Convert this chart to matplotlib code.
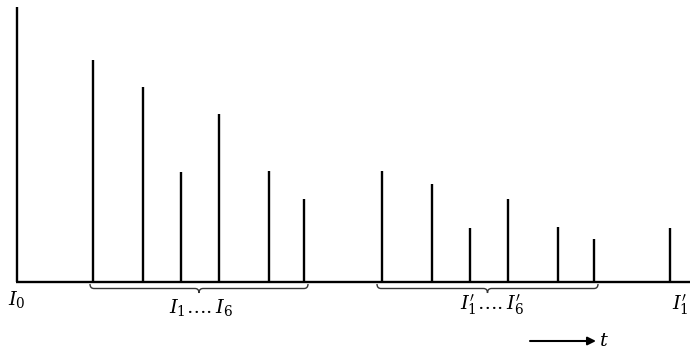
import matplotlib.pyplot as plt
import numpy as np
from matplotlib.path import Path
from matplotlib.patches import PathPatch

plt.rcParams['mathtext.fontset'] = 'dejavuserif'

# pulse positions (time, arbitrary units) and intensities
t_first = [17]
h_first = [275]
t_group1 = [93, 143, 181, 219, 269, 304]
h_group1 = [222, 195, 110, 168, 111, 83]
t_group2 = [382, 432, 470, 508, 558, 594]
h_group2 = [111, 98, 54, 83, 55, 43]
t_next = [670]
h_next = [54]

fig = plt.figure(figsize=(6.9, 3.53), dpi=100)
ax = fig.add_axes([0, 0, 1, 1])
ax.set_xlim(0, 690)
ax.set_ylim(-71, 282)
ax.axis('off')

all_t = t_first + t_group1 + t_group2 + t_next
all_h = h_first + h_group1 + h_group2 + h_next
ax.vlines(all_t, 0, all_h, color='black', lw=1.7)
ax.plot([t_first[0] - 1, 690], [0, 0], color='black', lw=1.7, solid_capstyle='butt')


def brace(x0, x1, y=-2, depth=9):
    mid = (x0 + x1) / 2
    d = depth / 2
    verts = [(x0, y), (x0, y - d), (x0 + 4, y - d), (mid - 4, y - d),
             (mid, y - d), (mid, y - depth),
             (mid, y - d), (mid + 4, y - d), (x1 - 4, y - d),
             (x1, y - d), (x1, y)]
    codes = [Path.MOVETO, Path.CURVE3, Path.CURVE3, Path.LINETO,
             Path.CURVE3, Path.CURVE3,
             Path.CURVE3, Path.CURVE3, Path.LINETO,
             Path.CURVE3, Path.CURVE3]
    ax.add_patch(PathPatch(Path(verts, codes), fill=False, color='#333333', lw=1.0))


brace(90, 308)
brace(377, 598)

fs = 14
ax.text(t_first[0], -17, r"$I_0$", fontsize=fs, ha='center', va='center')
ax.text(201, -25, r"$I_1 \ldots . I_6$", fontsize=fs, ha='center', va='center')
ax.text(492, -23, r"$I_1' \ldots . I_6'$", fontsize=fs, ha='center', va='center')
ax.text(t_next[0] + 10, -23, r"$I_1'$", fontsize=fs, ha='center', va='center')

ax.annotate('', xy=(596, -59), xytext=(530, -59),
            arrowprops=dict(arrowstyle='-|>', color='black', lw=1.5,
                            mutation_scale=12, shrinkA=0, shrinkB=0))
ax.text(604, -58, r"$t$", fontsize=fs, ha='center', va='center')

fig.savefig('out.png', dpi=100)
